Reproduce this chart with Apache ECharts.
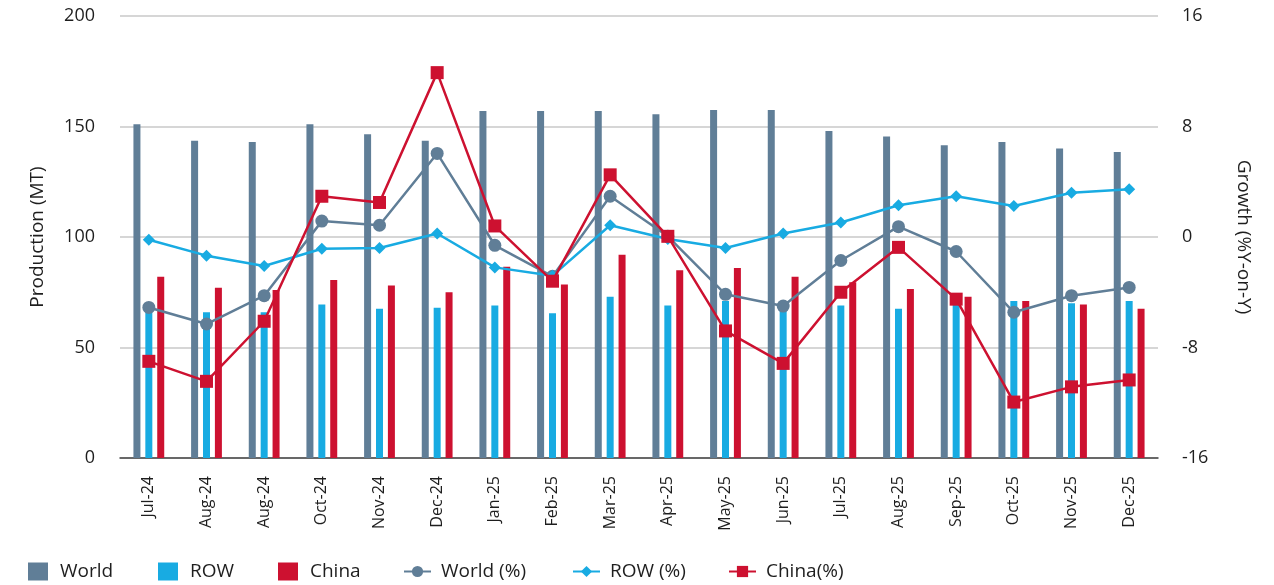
<!DOCTYPE html>
<html>
<head>
<meta charset="utf-8">
<script src="https://cdn.jsdelivr.net/npm/echarts@6/dist/echarts.min.js"></script>
<style>
  html, body { margin: 0; padding: 0; background: #fff; }
  #chart { width: 1274px; height: 585px; }
</style>
</head>
<body>
<div id="chart"></div>
<script>
// categories (as printed, the 3rd label repeats Aug-24)
var months = ['Jul-24','Aug-24','Aug-24','Oct-24','Nov-24','Dec-24','Jan-25','Feb-25','Mar-25','Apr-25',
              'May-25','Jun-25','Jul-25','Aug-25','Sep-25','Oct-25','Nov-25','Dec-25'];

// production, MT
var worldProd = [151, 143.5, 143, 151, 146.5, 143.5, 157, 157, 157, 155.5, 157.5, 157.5, 148, 145.5, 141.5, 143, 140, 138.5];
var rowProd   = [67, 66, 66, 69.5, 67.5, 68, 69, 65.5, 73, 69, 71, 69, 69, 67.5, 71, 71, 70, 71];
var chinaProd = [82, 77, 76, 80.5, 78, 75, 86.5, 78.5, 92, 85, 86, 82, 79.5, 76.5, 73, 71, 69.5, 67.5];

// growth, % y-on-y
var worldPct = [-5.1, -6.3, -4.25, 1.15, 0.85, 6.05, -0.6, -2.85, 2.95, 0.05, -4.15, -5.0, -1.7, 0.75, -1.05, -5.45, -4.25, -3.65];
var rowPct   = [-0.2, -1.35, -2.1, -0.85, -0.8, 0.25, -2.2, -2.8, 0.85, -0.15, -0.8, 0.25, 1.05, 2.3, 2.95, 2.25, 3.2, 3.45];
var chinaPct = [-9.0, -10.45, -6.1, 2.95, 2.5, 11.9, 0.8, -3.2, 4.5, 0.05, -6.8, -9.15, -4.0, -0.75, -4.5, -11.95, -10.85, -10.35];

var cWorld = '#607e97';
var cRow = '#18abe2';
var cChina = '#cd1130';
var font = 'Open Sans';
var ink = '#1e1e1e';

var chart = echarts.init(document.getElementById('chart'));

// one small legend per entry so each sits where the original puts it
function barLegend(name, left) {
  return {
    left: left, top: 557,
    itemWidth: 20, itemHeight: 18,
    textStyle: { fontFamily: font, fontSize: 19, color: ink, padding: [0, 0, 0, 7] },
    data: [{ name: name, icon: 'rect' }]
  };
}
function lineLegend(name, left) {
  return {
    left: left, top: 557,
    itemWidth: 27, itemHeight: 14,
    textStyle: { fontFamily: font, fontSize: 19, color: ink, padding: [0, 0, 0, 5] },
    data: [name]
  };
}

var option = {
  animation: false,
  textStyle: { fontFamily: font },
  legend: [
    barLegend('World', 23),
    barLegend('ROW', 153),
    barLegend('China', 273),
    lineLegend('World (%)', 398),
    lineLegend('ROW (%)', 567),
    lineLegend('China(%)', 723)
  ],
  grid: { left: 120, right: 116, top: 16, bottom: 127 },
  xAxis: {
    type: 'category',
    data: months,
    axisLine: { lineStyle: { color: '#444', width: 1.5 } },
    axisTick: { show: false },
    axisLabel: { rotate: 90, fontSize: 16, color: ink, margin: 18, fontFamily: font }
  },
  yAxis: [
    {
      type: 'value', min: 0, max: 200, interval: 50,
      name: 'Production (MT)', nameLocation: 'middle', nameGap: 73, nameRotate: 90,
      nameTextStyle: { fontSize: 19, color: ink, fontFamily: font },
      axisLine: { show: false }, axisTick: { show: false },
      axisLabel: { fontSize: 18, color: ink, margin: 25, fontFamily: font },
      splitLine: { lineStyle: { color: '#c8c8c8', width: 1.5 } }
    },
    {
      type: 'value', min: -16, max: 16, interval: 8,
      name: 'Growth (%Y-on-Y)', nameLocation: 'middle', nameGap: 76, nameRotate: -90,
      nameTextStyle: { fontSize: 19, color: ink, fontFamily: font },
      axisLine: { show: false }, axisTick: { show: false },
      axisLabel: { fontSize: 18, color: ink, margin: 24, fontFamily: font },
      splitLine: { show: false }
    }
  ],
  series: [
    { name: 'World', type: 'bar', data: worldProd, barWidth: 7, barGap: '70%', itemStyle: { color: cWorld } },
    { name: 'ROW', type: 'bar', data: rowProd, barWidth: 7, barGap: '70%', itemStyle: { color: cRow } },
    { name: 'China', type: 'bar', data: chinaProd, barWidth: 7, barGap: '70%', itemStyle: { color: cChina } },
    { name: 'World (%)', type: 'line', yAxisIndex: 1, data: worldPct, symbol: 'circle', symbolSize: 13,
      lineStyle: { color: cWorld, width: 2.5 }, itemStyle: { color: cWorld }, z: 3 },
    { name: 'ROW (%)', type: 'line', yAxisIndex: 1, data: rowPct, symbol: 'diamond', symbolSize: 12,
      lineStyle: { color: cRow, width: 2.5 }, itemStyle: { color: cRow }, z: 3 },
    { name: 'China(%)', type: 'line', yAxisIndex: 1, data: chinaPct, symbol: 'rect', symbolSize: 13,
      lineStyle: { color: cChina, width: 2.5 }, itemStyle: { color: cChina }, z: 4 }
  ]
};

chart.setOption(option);
</script>
</body>
</html>
